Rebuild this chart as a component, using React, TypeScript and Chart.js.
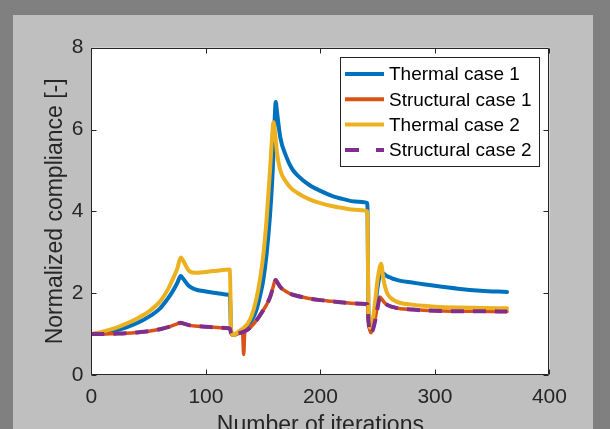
import React, { useEffect, useRef } from "react";
import { Chart, registerables } from "chart.js";

Chart.register(...registerables);

// ---- data ----
const ITER = [
  0, 10, 20, 30, 40, 50, 60, 67, 70, 75, 78, 80, 85, 90, 100, 110, 120, 121, 122, 124,
  128, 130, 132, 133, 134, 136, 140, 144, 147, 150, 153, 156, 158, 159, 160, 161, 162, 165, 170, 175,
  180, 190, 200, 210, 220, 230, 241, 242, 244, 246, 248, 250, 252, 253, 255, 258, 262, 266, 270, 280,
  290, 300, 320, 340, 363,
];

const THERMAL_1 = [
  1.0, 1.03, 1.08, 1.16, 1.27, 1.42, 1.63, 1.88, 2.0, 2.25, 2.42, 2.36, 2.18, 2.1, 2.04, 2.0, 1.96, 1.95, 1.05, 0.98,
  1.02, 1.05, 1.08, 1.1, 1.12, 1.17, 1.33, 1.58, 1.9, 2.3, 2.95, 3.9, 4.8, 5.4, 6.2, 6.67, 6.45, 5.8, 5.35, 5.05,
  4.88, 4.65, 4.5, 4.38, 4.3, 4.24, 4.2, 1.5, 1.1, 1.3, 1.7, 2.15, 2.45, 2.5, 2.48, 2.42, 2.37, 2.33, 2.3, 2.26,
  2.22, 2.18, 2.11, 2.06, 2.03,
];

const STRUCTURAL_1 = [
  1.0, 1.0, 1.01, 1.02, 1.04, 1.07, 1.12, 1.17, 1.2, 1.25, 1.28, 1.26, 1.22, 1.2, 1.18, 1.16, 1.14, 1.13, 1.02, 0.97,
  1.01, 1.03, 1.05, 0.5, 1.07, 1.1, 1.2, 1.33, 1.45, 1.58, 1.72, 1.9, 2.08, 2.18, 2.28, 2.32, 2.28, 2.15, 2.04, 1.97,
  1.93, 1.87, 1.83, 1.8, 1.77, 1.75, 1.73, 1.3, 1.03, 1.15, 1.4, 1.7, 1.9, 1.88, 1.8, 1.72, 1.67, 1.64, 1.62, 1.6,
  1.58, 1.57, 1.56, 1.56, 1.55,
];

const THERMAL_2 = [
  1.0, 1.06, 1.14, 1.25, 1.38, 1.55, 1.8, 2.1, 2.28, 2.6, 2.87, 2.8, 2.55, 2.5, 2.52, 2.55, 2.58, 2.57, 1.1, 0.98,
  1.05, 1.09, 1.13, 1.15, 1.18, 1.24, 1.45, 1.85, 2.3, 2.9, 3.8, 5.0, 5.9, 6.18, 6.0, 5.75, 5.45, 5.0, 4.72, 4.55,
  4.45, 4.3, 4.2, 4.13, 4.08, 4.04, 4.0, 1.5, 1.15, 1.4, 1.85, 2.35, 2.65, 2.72, 2.35, 2.02, 1.87, 1.8, 1.76, 1.72,
  1.69, 1.67, 1.65, 1.64, 1.63,
];

const STRUCTURAL_2 = [
  1.0, 1.0, 1.01, 1.02, 1.04, 1.07, 1.12, 1.17, 1.2, 1.25, 1.28, 1.26, 1.22, 1.2, 1.18, 1.16, 1.14, 1.13, 1.02, 0.97,
  1.01, 1.03, 1.05, 1.06, 1.07, 1.1, 1.2, 1.33, 1.45, 1.58, 1.72, 1.9, 2.08, 2.18, 2.28, 2.32, 2.28, 2.15, 2.04, 1.97,
  1.93, 1.87, 1.83, 1.8, 1.77, 1.75, 1.73, 1.3, 1.02, 1.12, 1.35, 1.65, 1.9, 1.88, 1.8, 1.72, 1.67, 1.64, 1.62, 1.6,
  1.58, 1.57, 1.56, 1.56, 1.55,
];

const SERIES_LABELS = ["Thermal case 1", "Structural case 1", "Thermal case 2", "Structural case 2"];
const X_TICKS = [0, 100, 200, 300, 400];
const Y_TICKS = [0, 2, 4, 6, 8];
const X_TITLE = "Number of iterations";
const Y_TITLE = "Normalized compliance [-]";

const COLORS = ["#0072BD", "#D95319", "#EDB120", "#7E2F8E"];
const FONT = "'Liberation Sans', Arial, Helvetica, sans-serif";
const AXIS_COLOR = "#262626";

const toPoints = (ys: number[]) => ys.map((y, i) => ({ x: ITER[i], y }));

const framePlugin = {
  id: "matlabFrame",
  beforeDraw(chart: any) {
    const ctx = chart.ctx;
    const a = chart.chartArea;
    ctx.save();
    ctx.fillStyle = "#808080";
    ctx.fillRect(0, 0, chart.width, chart.height);
    ctx.fillStyle = "#bfbfbf";
    ctx.fillRect(13, 15, 580, chart.height - 15);
    ctx.fillStyle = "#ffffff";
    ctx.fillRect(a.left, a.top, a.right - a.left, a.bottom - a.top);
    ctx.restore();
  },
  afterDatasetsDraw(chart: any) {
    const ctx = chart.ctx;
    const a = chart.chartArea;
    const xs = chart.scales.x;
    const ys = chart.scales.y;
    ctx.save();
    ctx.strokeStyle = AXIS_COLOR;
    ctx.lineWidth = 1;
    ctx.setLineDash([]);
    ctx.beginPath();
    const L = Math.round(a.left) + 0.5;
    const R = Math.round(a.right) - 0.5;
    const T = Math.round(a.top) + 0.5;
    const B = Math.round(a.bottom) - 0.5;
    ctx.rect(L, T, R - L, B - T);
    const tl = 5;
    X_TICKS.forEach((v) => {
      const px = Math.round(xs.getPixelForValue(v)) + 0.5;
      ctx.moveTo(px, B);
      ctx.lineTo(px, B - tl);
      ctx.moveTo(px, T);
      ctx.lineTo(px, T + tl);
    });
    Y_TICKS.forEach((v) => {
      const py = Math.round(ys.getPixelForValue(v)) + 0.5;
      ctx.moveTo(L, py);
      ctx.lineTo(L + tl, py);
      ctx.moveTo(R, py);
      ctx.lineTo(R - tl, py);
    });
    ctx.stroke();

    // legend
    const lx = 340.5, ly = 57.5, lw = 199, lh = 109;
    ctx.fillStyle = "#ffffff";
    ctx.fillRect(lx, ly, lw, lh);
    ctx.strokeStyle = AXIS_COLOR;
    ctx.lineWidth = 1;
    ctx.strokeRect(lx, ly, lw, lh);
    ctx.font = `19px ${FONT}`;
    ctx.textBaseline = "middle";
    ctx.textAlign = "left";
    SERIES_LABELS.forEach((label, i) => {
      const cy = 74 + i * 25.3;
      ctx.strokeStyle = COLORS[i];
      ctx.lineWidth = 4;
      ctx.setLineDash(i === 3 ? [14, 17] : []);
      ctx.beginPath();
      ctx.moveTo(345, cy);
      ctx.lineTo(384, cy);
      ctx.stroke();
      ctx.setLineDash([]);
      ctx.fillStyle = "#000000";
      ctx.fillText(label, 389, cy + 1);
    });
    ctx.restore();
  },
};

export default function App() {
  const ref = useRef<HTMLCanvasElement | null>(null);

  useEffect(() => {
    if (!ref.current) return;
    const seriesData = [THERMAL_1, STRUCTURAL_1, THERMAL_2, STRUCTURAL_2];
    const orders = [3, 2, 1, 0];
    const chart = new Chart(ref.current, {
      type: "line",
      data: {
        datasets: seriesData.map((d, i) => ({
          label: SERIES_LABELS[i],
          data: toPoints(d),
          borderColor: COLORS[i],
          backgroundColor: COLORS[i],
          borderWidth: i === 1 ? 3.5 : 4,
          borderDash: i === 3 ? [13, 9] : [],
          pointRadius: 0,
          cubicInterpolationMode: "monotone",
          fill: false,
          order: orders[i],
          borderJoinStyle: "round",
          borderCapStyle: i === 3 ? "butt" : "round",
        })) as any,
      },
      options: {
        animation: false,
        responsive: false,
        events: [],
        layout: { padding: { left: 0, top: 47.7, right: 60.6, bottom: 0 } },
        plugins: { legend: { display: false }, tooltip: { enabled: false } },
        scales: {
          x: {
            type: "linear",
            min: 0,
            max: 400,
            afterBuildTicks: (s: any) => {
              s.ticks = X_TICKS.map((v) => ({ value: v }));
            },
            afterFit: (s: any) => {
              s.height = 54;
            },
            grid: { display: false, drawTicks: false },
            border: { display: false },
            ticks: {
              padding: 10,
              maxRotation: 0,
              color: AXIS_COLOR,
              font: { size: 21, family: FONT },
            },
            title: {
              display: true,
              text: X_TITLE,
              color: AXIS_COLOR,
              font: { size: 23, family: FONT },
              padding: { top: 0, bottom: -10 },
            },
          },
          y: {
            type: "linear",
            min: 0,
            max: 8,
            afterBuildTicks: (s: any) => {
              s.ticks = Y_TICKS.map((v) => ({ value: v }));
            },
            afterFit: (s: any) => {
              s.width = 91.4;
            },
            grid: { display: false, drawTicks: false },
            border: { display: false },
            ticks: {
              padding: 8,
              color: AXIS_COLOR,
              font: { size: 21, family: FONT },
            },
            title: {
              display: true,
              text: Y_TITLE,
              color: AXIS_COLOR,
              font: { size: 23, family: FONT },
              padding: { top: 42, bottom: 0 },
            },
          },
        },
      } as any,
      plugins: [framePlugin],
    });
    return () => chart.destroy();
  }, []);

  return (
    <canvas
      ref={ref}
      width={610}
      height={429}
      style={{ position: "fixed", left: 0, top: 0, width: 610, height: 429 }}
    />
  );
}
